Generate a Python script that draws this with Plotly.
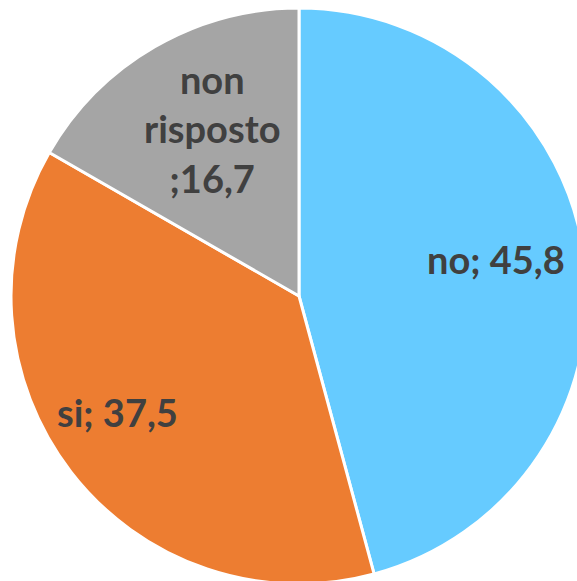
import math
import plotly.graph_objects as go

labels = ["no", "si", "non risposto"]
values = [45.8, 37.5, 16.7]
label_text = ["no; 45,8", "si; 37,5", "non<br>risposto<br>;16,7"]
colors = ["#66CBFF", "#ED7D31", "#A5A5A5"]

# label placement style (fraction of radius, angular nudge in degrees)
label_r = [0.695, 0.75, 0.655]
label_nudge = [-3.0, 5.0, 2.5]

W, H = 600, 600
cx, cy, R = 299, 296, 288

fig = go.Figure(go.Pie(
    labels=labels,
    values=values,
    textinfo="none",
    sort=False,
    direction="clockwise",
    rotation=0,
    marker=dict(colors=colors, line=dict(color="white", width=3)),
    domain=dict(x=[(cx - R) / W, (cx + R) / W], y=[1 - (cy + R) / H, 1 - (cy - R) / H]),
    showlegend=False,
    hoverinfo="label+value",
))

total = sum(values)
cum = 0.0
for v, txt, rf, nd in zip(values, label_text, label_r, label_nudge):
    mid = (cum + v / 2) / total * 360 + nd
    cum += v
    th = math.radians(mid)
    px = cx + rf * R * math.sin(th)
    py = cy - rf * R * math.cos(th)
    fig.add_annotation(
        x=px / W, y=1 - py / H, xref="paper", yref="paper",
        text=txt, showarrow=False, xanchor="center", yanchor="middle",
        font=dict(family="Lato", size=38, color="#404040", weight="bold"),
    )

fig.update_layout(
    width=W, height=H,
    margin=dict(l=0, r=0, t=0, b=0),
    paper_bgcolor="white",
    plot_bgcolor="white",
)

fig.write_html(
    "out.html",
    config={"displayModeBar": False},
    post_script="document.body.style.margin='0';document.body.style.overflow='hidden';",
)
